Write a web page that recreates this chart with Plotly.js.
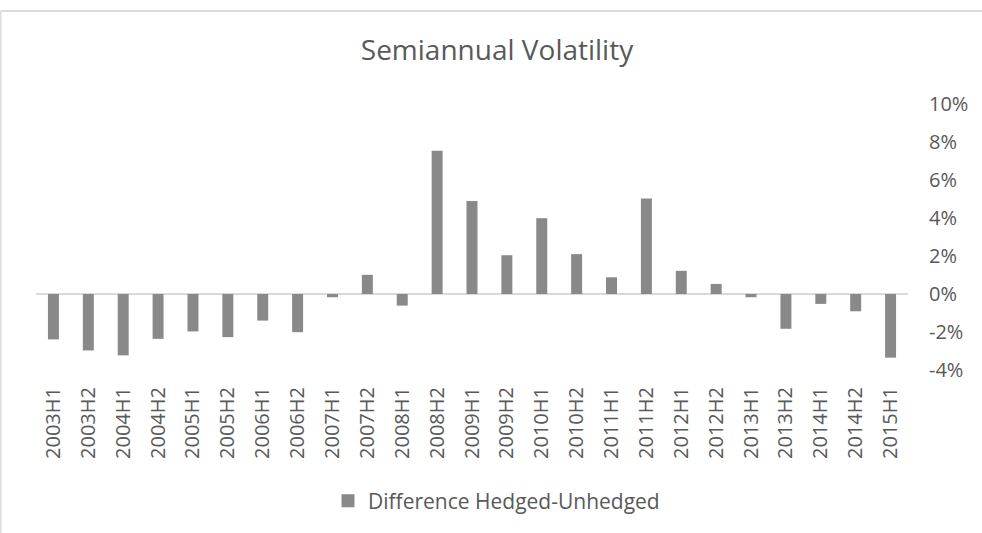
<!DOCTYPE html>
<html>
<head>
<meta charset="utf-8">
<script src="https://cdn.plot.ly/plotly-3.0.1.min.js"></script>
<style>
  html, body { margin: 0; padding: 0; background: #ffffff; overflow: hidden; width: 982px; height: 533px; }
  #chart { position: absolute; left: 0; top: 0; width: 982px; height: 533px; overflow: hidden; }
</style>
</head>
<body>
<div id="chart"></div>
<script>
const categories = ["2003H1","2003H2","2004H1","2004H2","2005H1","2005H2","2006H1","2006H2",
  "2007H1","2007H2","2008H1","2008H2","2009H1","2009H2","2010H1","2010H2","2011H1","2011H2",
  "2012H1","2012H2","2013H1","2013H2","2014H1","2014H2","2015H1"];
const difference = [-0.0239,-0.0297,-0.0323,-0.0236,-0.0197,-0.0227,-0.0140,-0.0201,
  -0.0017,0.0101,-0.0061,0.0754,0.0489,0.0204,0.0399,0.0210,0.0088,0.0503,
  0.0122,0.0053,-0.0017,-0.0183,-0.0052,-0.0091,-0.0335];
const yTicks = [-0.04,-0.02,0,0.02,0.04,0.06,0.08,0.10];
const yTickText = ["-4%","-2%","0%","2%","4%","6%","8%","10%"];
const seriesName = "Difference Hedged-Unhedged";
const chartTitle = "Semiannual Volatility";

const textColor = "#595959";
const barColor = "#898989";
const fontFamily = "'Open Sans', 'Noto Sans', sans-serif";

const data = [{
  type: "bar",
  x: categories,
  y: difference,
  name: seriesName,
  marker: { color: barColor, line: { width: 0 } },
  showlegend: false,
  legendgroup: "diff",
  hoverinfo: "x+y"
}, {
  type: "scatter",
  mode: "markers",
  x: [null],
  y: [null],
  name: seriesName,
  legendgroup: "diff",
  marker: { symbol: "square", size: 13, color: barColor, line: { width: 0 } },
  showlegend: true,
  hoverinfo: "skip"
}];

const layout = {
  width: 982,
  height: 533,
  paper_bgcolor: "#ffffff",
  plot_bgcolor: "rgba(0,0,0,0)",
  margin: { l: 35.5, r: 74, t: 104, b: 163, pad: 0 },
  bargap: 0.685,
  title: {
    text: chartTitle,
    font: { family: fontFamily, size: 28, color: textColor },
    x: 497/982, xanchor: "center", xref: "container",
    y: 1 - 50/533, yanchor: "middle", yref: "container"
  },
  xaxis: {
    type: "category",
    tickangle: -90,
    tickfont: { family: fontFamily, size: 20, color: textColor },
    showgrid: false,
    showline: false,
    ticks: "",
    ticklabelstandoff: 12,
    zeroline: false,
    fixedrange: true
  },
  yaxis: {
    side: "right",
    range: [-0.04, 0.10],
    tickvals: yTicks,
    ticktext: yTickText,
    tickfont: { family: fontFamily, size: 20, color: textColor },
    showgrid: false,
    showline: false,
    ticks: "",
    ticklabelstandoff: 20,
    zeroline: true,
    zerolinecolor: "#d9d9d9",
    zerolinewidth: 2,
    fixedrange: true
  },
  shapes: [
    { type: "line", xref: "paper", yref: "paper",
      x0: -35.5/873, x1: -35.5/873, y0: 1 + (104-11)/266, y1: -2, line: { color: "#dcdcdc", width: 2 }, layer: "below" },
    { type: "line", xref: "paper", yref: "paper",
      x0: -35.5/873, x1: 2, y0: 1 + (104-11)/266, y1: 1 + (104-11)/266, line: { color: "#dcdcdc", width: 2 }, layer: "below" }
  ],
  showlegend: true,
  legend: {
    orientation: "h",
    x: 328/982, xanchor: "left", xref: "container",
    y: 1 - 501/533, yanchor: "middle", yref: "container",
    font: { family: fontFamily, size: 21, color: textColor },
    bgcolor: "rgba(0,0,0,0)",
    itemwidth: 30
  }
};

Plotly.newPlot("chart", data, layout, { displayModeBar: false, staticPlot: true });
</script>
</body>
</html>
